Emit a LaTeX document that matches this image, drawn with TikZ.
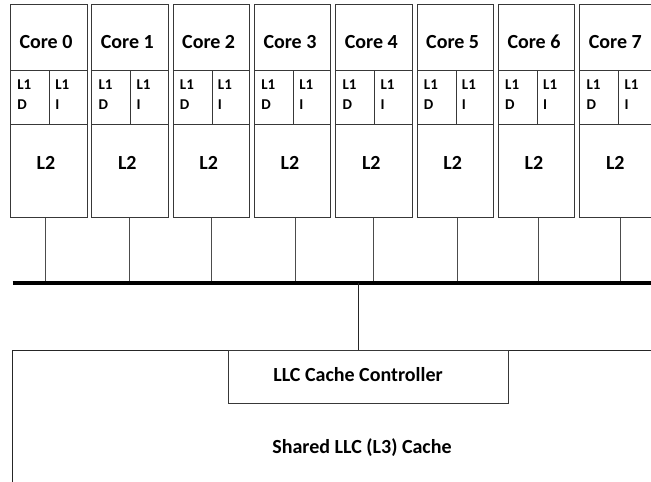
\documentclass[tikz,border=0pt]{standalone}
\usepackage{fontspec}
\setmainfont{Carlito}
\begin{document}
\begin{tikzpicture}[x=0.75pt,y=-0.75pt,
  box/.style={draw=black!78,line width=0.75pt,rectangle,inner sep=0pt,anchor=north west},
  wire/.style={draw=black!70,line width=0.75pt},
  bus/.style={draw=black,line width=2.7pt},
  bigtxt/.style={font=\bfseries\fontsize{15pt}{18pt}\selectfont,inner sep=0pt,anchor=base},
  smalltxt/.style={font=\bfseries\fontsize{11.25pt}{13.5pt}\selectfont,inner sep=0pt,anchor=base west}]
\useasboundingbox (0,0) rectangle (651,482);
\clip (0,0) rectangle (651,482);

% eight cores, each with core, L1 D / L1 I and L2 blocks
\foreach \i/\dx in {0/45.7,1/129.7,2/211,3/295,4/373.6,5/457,6/538.7,7/620}{
  \pgfmathsetmacro{\L}{10+81.33*\i}
  \node[box,minimum width=57.375pt,minimum height=49.5pt] (core\i) at (\L,4) {};
  \node[box,minimum width=29.25pt,minimum height=40.5pt] (l1d\i) at (\L,70) {};
  \node[box,minimum width=28.125pt,minimum height=40.5pt] (l1i\i) at (\L+39,70) {};
  \node[box,minimum width=57.375pt,minimum height=69.75pt] (l2\i) at (\L,124) {};
  \node[bigtxt] (coretxt\i) at (\L+36,48.4) {Core \i};
  \node[smalltxt] (l1dtxt\i) at (\L+7,89.8) {L1};
  \node[smalltxt] (dtxt\i) at (\L+7,109.8) {D};
  \node[smalltxt] (l1itxt\i) at (\L+45,89.8) {L1};
  \node[smalltxt] (itxt\i) at (\L+45,109.8) {I};
  \node[bigtxt] (l2txt\i) at (\L+36,169.4) {L2};
  \coordinate (tap\i) at (\dx,283);
}

% shared bus
\coordinate (busL) at (12.7,283);
\coordinate (busR) at (660,283);
\foreach \i in {0,...,7}{
  \draw[wire] (l2\i.south -| tap\i) -- (tap\i);
}
\draw[bus] (busL) -- (busR);

% shared last level cache and its controller
\node[box,draw=black!85,minimum width=516pt,minimum height=150pt] (llc) at (12,350) {};
\node[box,minimum width=210pt,minimum height=39.75pt] (ctrl) at (228,350) {};
\coordinate (ctap) at (358,283);
\draw[wire,draw=black!85] (ctap) -- (ctap |- ctrl.north);
\node[bigtxt] (ctrltxt) at (358,381.4) {LLC Cache Controller};
\node[bigtxt] (llctxt) at (362,453.4) {Shared LLC (L3) Cache};
\end{tikzpicture}
\end{document}
